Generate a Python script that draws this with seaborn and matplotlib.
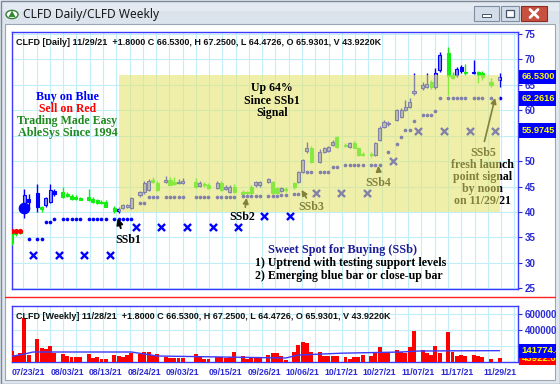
import numpy as np
import pandas as pd
import matplotlib
matplotlib.use("Agg")
import matplotlib.pyplot as plt
import matplotlib.transforms as mtransforms
from matplotlib.patches import Rectangle, Circle, Polygon
from matplotlib.lines import Line2D
import seaborn as sns

# ---------------- data ----------------
start_day = "2021-07-19"
end_day = "2021-11-29"
holidays = ["2021-09-06", "2021-11-25"]

opens = [35.9, 35.7, 35.9, 40.4, 42.5,
         43.7, 40.5, 41.4, 42.0, 44.1,
         43.9, 43.6, 43.1, 42.9, 42.7,
         42.9, 42.5, 42.3, 41.9, 42.0,
         40.8, 40.1, 40.8, 41.0, 40.8,
         43.3, 43.9, 44.4, 46.2, 45.7,
         45.9, 46.3, 45.8, 45.6, 45.7,
         45.9, 45.1, 45.4, 45.3,
         44.7, 45.7, 44.5, 43.9, 44.9,
         44.0, 43.9, 43.8, 45.2, 45.2,
         45.8, 45.8, 44.8, 44.1, 44.6,
         45.0, 45.9, 47.8, 52.0, 52.5,
         49.8, 51.8, 52.0, 53.1, 54.7,
         53.1, 52.8, 53.5, 52.5, 51.4,
         51.4, 51.2, 54.1, 56.7, 57.2,
         58.0, 58.6, 60.0, 60.6, 63.3,
         64.3, 64.6, 65.4, 64.5, 67.8,
         71.2, 66.9, 66.8, 68.4, 67.4,
         67.4, 67.4, 67.2, 65.5,
         65.93]
highs = [36.4, 36.5, 36.6, 44.6, 43.6,
         45.5, 41.2, 43.0, 45.5, 44.6,
         44.9, 44.0, 43.5, 43.3, 43.0,
         44.5, 42.9, 42.6, 42.3, 42.3,
         41.1, 41.0, 41.6, 41.6, 42.9,
         44.2, 46.0, 46.5, 46.9, 46.0,
         47.0, 46.8, 46.8, 46.5, 46.6,
         46.6, 46.0, 45.8, 45.6,
         46.0, 46.0, 45.2, 45.3, 45.4,
         44.3, 44.2, 45.2, 46.0, 46.0,
         46.7, 46.1, 45.0, 45.0, 45.0,
         45.9, 48.0, 50.4, 53.8, 52.9,
         52.3, 52.8, 53.0, 54.2, 55.0,
         53.6, 53.8, 53.9, 52.8, 51.7,
         51.8, 53.7, 56.8, 58.0, 57.8,
         60.2, 60.4, 62.0, 62.3, 67.3,
         65.5, 67.3, 65.8, 68.2, 71.4,
         72.4, 67.5, 68.5, 68.9, 69.0,
         69.9, 67.6, 67.6, 66.2,
         67.25]
lows = [33.6, 35.3, 35.6, 38.8, 41.2,
        40.0, 40.0, 41.0, 41.8, 43.2,
        42.7, 42.9, 42.4, 42.3, 42.3,
        42.2, 41.8, 41.6, 41.5, 40.9,
        39.9, 39.9, 40.5, 40.7, 40.6,
        43.0, 43.6, 44.2, 45.6, 44.2,
        45.6, 45.2, 45.3, 45.4, 45.5,
        44.8, 44.9, 45.0, 44.6,
        44.5, 44.2, 44.3, 43.7, 43.8,
        43.4, 43.5, 43.6, 45.0, 45.0,
        45.6, 43.6, 43.6, 43.9, 44.0,
        44.6, 45.6, 47.6, 51.6, 49.6,
        49.6, 51.5, 51.8, 52.9, 52.6,
        52.7, 52.6, 52.5, 51.0, 51.0,
        50.8, 51.0, 53.9, 56.4, 56.9,
        57.8, 58.4, 59.8, 60.4, 62.9,
        64.0, 64.3, 64.2, 64.2, 67.4,
        62.9, 66.0, 66.5, 67.2, 66.8,
        67.1, 65.3, 65.8, 64.6,
        64.47]
closes = [34.0, 36.0, 36.2, 43.3, 42.0,
          41.0, 40.9, 42.7, 44.3, 43.5,
          42.9, 43.1, 42.6, 42.5, 42.4,
          42.4, 42.0, 41.8, 41.7, 41.0,
          40.1, 40.6, 41.4, 41.4, 42.7,
          43.9, 45.7, 46.0, 45.8, 44.3,
          46.3, 45.3, 45.5, 45.9, 46.0,
          44.9, 45.6, 45.2, 44.7,
          45.7, 44.3, 44.9, 44.9, 43.9,
          43.6, 43.7, 45.0, 45.8, 45.8,
          46.4, 43.8, 43.8, 44.8, 44.3,
          45.6, 47.8, 50.2, 52.5, 49.8,
          51.8, 52.5, 52.7, 53.7, 52.7,
          52.9, 53.5, 52.6, 51.2, 51.2,
          51.1, 53.5, 56.5, 57.6, 57.4,
          60.0, 60.0, 60.6, 61.6, 63.7,
          64.9, 65.2, 64.6, 67.2, 70.8,
          66.7, 66.3, 68.0, 67.6, 67.2,
          67.2, 66.9, 66.5, 64.9,
          66.53]
bar_colors = list("gggbb" "bgbbb" "ggggg" "ggggg" "gbbbb" "bbbgg" "bggbb" "gbgg"
                  "bgbbg" "gggbb" "bggbg" "gbbbg" "bbbbg" "gbggg" "gbbbb" "bbbbb"
                  "bbgbb" "ggbbg" "bggg" "b")
volumes_k = [141, 75, 110, 550, 87,
             287, 175, 162, 200, 110,
             100, 75, 62, 62, 60,
             100, 45, 62, 37, 37,
             87, 75, 60, 87, 110,
             100, 125, 125, 87, 100,
             60, 45, 45, 45, 45,
             100, 75, 37, 40,
             62, 62, 45, 62, 125,
             75, 37, 60, 60, 45,
             87, 110, 112, 75, 30,
             125, 212, 250, 237, 125,
             125, 75, 75, 75, 75,
             62, 37, 62, 62, 87,
             75, 110, 187, 110, 125,
             150, 125, 110, 187, 390,
             150, 110, 87, 200, 110,
             375, 125, 75, 87, 75,
             87, 75, 62, 40,
             43.922]
nan = np.nan
support_dots = [nan, nan, nan, nan, 34.7,
                34.7, 34.7, 38.0, 38.0, 38.6,
                38.6, 38.6, 38.6, 38.6, 38.6,
                38.6, 38.6, 38.6, 38.6, 38.6,
                38.6, 38.6, 38.6, 38.6, 38.6,
                41.8, 41.8, 42.9, 42.9, 42.9,
                42.9, 42.9, 42.9, 42.9, 42.9,
                42.9, 42.9, 42.9, 42.9,
                42.9, 42.9, 42.9, 42.9, 42.9,
                43.1, 43.1, 43.1, 43.1, 43.1,
                43.1, 43.1, 43.1, 43.3, 43.3,
                43.5, 43.5, nan, 47.8, 47.8,
                47.8, 47.8, 47.8, 48.8, 48.8,
                49.2, 49.2, 49.2, 49.2, 49.2,
                49.2, 49.2, 49.2, nan, 51.8,
                53.3, 54.7, 56.1, 56.1, 57.8,
                59.0, 59.0, 59.0, 59.8, 62.26,
                62.26, 62.26, 62.26, 62.26, 62.26,
                62.26, 62.26, 62.26, 62.26,
                62.26]
sell_dot_days = [0, 1, 2]
sell_dot_level = 36.3
signal_day = 3
signal_level = 40.8
stop_weeks = list(range(19))
stop_levels = [31.6, 31.6, 31.6, 31.6, 37.0, 37.0, 37.0, 37.0, 37.0, 39.2,
               39.2, 43.7, 43.7, 43.7, 50.0, 55.9745, 55.9745, 55.9745, 55.9745]
ma_slots = [0, 3, 5, 28, 34, 46, 58, 64, 67, 77, 91, 95, 103, 114]
ma_k = [70, 100, 125, 125, 75, 65, 55, 50, 87, 110, 125, 137, 140, 141.774]
date_labels = ["07/23/21", "08/03/21", "08/13/21", "08/24/21", "09/03/21", "09/15/21",
               "09/26/21", "10/06/21", "10/17/21", "10/27/21", "11/07/21", "11/17/21",
               "11/29/21"]
price_ticks = [25, 30, 35, 40, 45, 50, 55, 60, 65, 70, 75]
price_hidden = [55]          # covered by the value box in the reference
vol_ticks = [200000, 400000, 600000]
vol_hidden = [200000]        # covered by the value box in the reference
last_close = 66.53
last_support = 62.2616
last_stop = 55.9745
last_vol = 43922.0
last_vol_ma = 141774.4
ssb1_day = 21

# ---------------- derived positions ----------------
t0 = pd.Timestamp(start_day)
days = pd.bdate_range(start_day, end_day)
days = days[~days.isin(pd.to_datetime(holidays))]


def slot_of(d):
    d = pd.Timestamp(d)
    return ((d - t0).days // 7) * 6 + min(d.weekday(), 5)


slots = np.array([slot_of(d) for d in days], dtype=float)
o = np.array(opens); h = np.array(highs); l = np.array(lows); c = np.array(closes)
assert len(slots) == len(o) == len(h) == len(l) == len(c) == len(bar_colors) == len(volumes_k) == len(support_dots)

# ---------------- figure ----------------
sns.set_style("white")
plt.rcParams["font.family"] = ["Liberation Sans", "DejaVu Sans"]
SERIF = ["Liberation Serif", "DejaVu Serif"]
W, H = 560, 384
fig = plt.figure(figsize=(W / 100, H / 100), dpi=100)
fig.patch.set_facecolor("#dfe6ee")


def fx(x):
    return x / W


def fy(y):
    return 1 - y / H


def frect(x0, y0, x1, y1, **kw):
    r = Rectangle((fx(x0), fy(y1)), fx(x1) - fx(x0), fy(y0) - fy(y1),
                  transform=fig.transFigure, **kw)
    fig.patches.append(r)
    return r


# window chrome
frect(0, 0, 560, 24, facecolor="#dbe3ec", edgecolor="none", zorder=-10)
frect(0, 0, 560, 11, facecolor="#e4eaf1", edgecolor="none", zorder=-9)
frect(5, 24, 555, 380, facecolor="white", edgecolor="#9aa6b4", lw=0.8, zorder=-8)
frect(0.5, 0.5, 559.5, 383.5, facecolor="none", edgecolor="#7d8999", lw=1, zorder=30)
frect(555.6, 24, 559.5, 383, facecolor="#dfe6ee", edgecolor="none", zorder=25)
# buttons
frect(474, 6, 499, 21, facecolor="#d3dde9", edgecolor="#7f8ea2", lw=0.8, zorder=26)
frect(482, 14, 491, 16.5, facecolor="white", edgecolor="#44556b", lw=0.7, zorder=27)
frect(501, 6, 519, 21, facecolor="#d3dde9", edgecolor="#7f8ea2", lw=0.8, zorder=26)
frect(506, 9.5, 514, 17, facecolor="white", edgecolor="#44556b", lw=0.9, zorder=27)
frect(521, 6, 547, 21, facecolor="#c8503f", edgecolor="#8a2e24", lw=0.8, zorder=26)
for (a, b) in [((530, 9.5), (538, 17.5)), ((530, 17.5), (538, 9.5))]:
    fig.lines.append(Line2D([fx(a[0]), fx(b[0])], [fy(a[1]), fy(b[1])], color="white",
                            lw=2.0, transform=fig.transFigure, zorder=28))
# icon
fig.patches.append(Circle((fx(12), fy(14.5)), 6 / W, transform=fig.transFigure,
                          facecolor="white", edgecolor="#3a7a3a", lw=1, zorder=26))
fig.patches.append(Polygon([(fx(8.5), fy(17)), (fx(12), fy(10.5)), (fx(15.5), fy(17))],
                           closed=True, transform=fig.transFigure, facecolor="#2e8b2e",
                           edgecolor="none", zorder=27))
fig.text(fx(23), fy(14.5), "CLFD Daily/CLFD Weekly", ha="left", va="center",
         fontsize=8.6, family=["Noto Sans", "DejaVu Sans"], color="#1a1a1a")

# separator
fig.lines.append(Line2D([fx(5), fx(555)], [fy(297), fy(297)], color="#ff2020", lw=1,
                        transform=fig.transFigure, zorder=5))

BLUE = "#0000ff"
GREEN = "#11ee11"
TICKBLUE = "#2a2ad6"
GRID = "#c2eef9"
XLIM = (0.1, 118.3)
grid_x = np.arange(2.75, 118.3, 3.1)

# ---------------- price axes ----------------
ax = fig.add_axes([fx(12), fy(289), fx(518) - fx(12), fy(32) - fy(289)])
ax.set_xlim(*XLIM)
ax.set_ylim(24.9, 75.3)
ax.set_facecolor("white")
ax.set_axisbelow(True)
for s in ax.spines.values():
    s.set_color("#3b3bff"); s.set_linewidth(1.0)
ax.yaxis.tick_right()
ax.set_yticks(price_ticks)
ax.set_yticklabels(["" if v in price_hidden else str(v) for v in price_ticks])
ax.tick_params(axis="y", length=3, color=TICKBLUE, labelcolor=TICKBLUE, labelsize=7, pad=2)
for t in ax.get_yticklabels():
    t.set_fontweight("bold")
ax.set_xticks([])
ax.set_xticks(grid_x, minor=True)
ax.tick_params(axis="x", which="both", length=0)
ax.grid(True, which="minor", axis="x", color=GRID, lw=0.8)
ax.grid(True, which="major", axis="y", color=GRID, lw=0.8)

cols = np.array([BLUE if k == "b" else GREEN for k in bar_colors])
filled = c < o
faces = np.array([cols[i] if (filled[i] or bar_colors[i] == "g") else "#8c8cff"
                  for i in range(len(cols))])
ax.vlines(slots, l, h, colors=cols, lw=1.0, zorder=3)
bottoms = np.minimum(o, c)
heights = np.maximum(np.abs(c - o), 0.18)
ax.bar(slots, heights, bottom=bottoms, width=0.72, color=faces, edgecolor=cols,
       linewidth=0.8, zorder=4)

dots = pd.DataFrame({"slot": slots, "level": support_dots}).dropna()
sns.scatterplot(data=dots, x="slot", y="level", ax=ax, color=BLUE, s=7, linewidth=0,
                zorder=5, legend=False)
sns.scatterplot(x=slots[sell_dot_days], y=[sell_dot_level] * len(sell_dot_days), ax=ax,
                color="#ff0000", s=14, linewidth=0, zorder=5, legend=False)
stop_slots = [6 * w + 5 for w in stop_weeks]
sns.scatterplot(x=stop_slots, y=stop_levels, ax=ax, marker="x", color=BLUE, s=26,
                linewidth=1.7, zorder=5, legend=False)
ax.scatter([slots[signal_day]], [signal_level], s=55, color=BLUE, zorder=6)
ax.set_xlabel(""); ax.set_ylabel("")

# annotations under the overlay
serif_bold = dict(family=SERIF, fontweight="bold", fontsize=8.6, color="black")
ax.text(27.2, 34.5, "SSb1", ha="center", va="center", zorder=6, **serif_bold)
ax.annotate("", xy=(24.6, 39.3), xytext=(25.7, 36.3),
            arrowprops=dict(arrowstyle="-|>", color="black", lw=1.4, mutation_scale=9), zorder=6)
ax.text(53.8, 39.0, "SSb2", ha="center", va="center", zorder=6, **serif_bold)
ax.annotate("", xy=(55.0, 43.3), xytext=(54.5, 40.4),
            arrowprops=dict(arrowstyle="-|>", color="black", lw=1.2, mutation_scale=8), zorder=6)
ax.text(70.0, 41.0, "SSb3", ha="center", va="center", zorder=6, **serif_bold)
ax.annotate("", xy=(67.4, 44.8), xytext=(69.2, 42.3),
            arrowprops=dict(arrowstyle="-|>", color="black", lw=1.2, mutation_scale=8), zorder=6)
ax.text(85.6, 45.7, "SSb4", ha="center", va="center", zorder=6, **serif_bold)
ax.annotate("", xy=(85.6, 49.6), xytext=(85.8, 47.5),
            arrowprops=dict(arrowstyle="-|>", color="black", lw=1.2, mutation_scale=8), zorder=6)
ax.annotate("", xy=(113.1, 62.9), xytext=(110.3, 53.3),
            arrowprops=dict(arrowstyle="-|>", color="black", lw=1.2, mutation_scale=8), zorder=6)
for txt, lv in [("SSb5", 51.6), ("fresh launch", 49.25), ("point signal", 46.9),
                ("by noon", 44.55), ("on 11/29/21", 42.2)]:
    ax.text(110.1, lv, txt, ha="center", va="center", zorder=6, clip_on=False, **serif_bold)

# translucent yellow overlay
ax.add_patch(Rectangle((slots[ssb1_day] - 0.0, 40.0), slots[-1] - slots[ssb1_day], 26.8,
                       facecolor="#e4e469", alpha=0.57, edgecolor="none", zorder=10))

# right value boxes
tr = mtransforms.blended_transform_factory(fig.transFigure, ax.transData)
for val in [last_stop, last_support, last_close]:
    ax.text(fx(521.5), val, f"{val:.4f}", transform=tr, ha="left", va="center",
            fontsize=6.6, fontweight="bold", color="#ffff00", clip_on=False, zorder=20,
            bbox=dict(boxstyle="square,pad=0.28", facecolor="#0000ff", edgecolor="none"))

# ---------------- volume axes ----------------
ax2 = fig.add_axes([fx(12), fy(362), fx(518) - fx(12), fy(306) - fy(362)])
ax2.set_xlim(*XLIM)
ax2.set_ylim(0, 700000)
ax2.set_axisbelow(True)
for s in ax2.spines.values():
    s.set_color("#3b3bff"); s.set_linewidth(1.0)
ax2.bar(slots, np.array(volumes_k) * 1000, width=0.92, color="#ff0000", linewidth=0, zorder=3)
sns.lineplot(x=ma_slots, y=np.array(ma_k) * 1000, ax=ax2, color="#3a3aff", lw=1.0, zorder=4)
ax2.yaxis.tick_right()
ax2.set_yticks(vol_ticks)
ax2.set_yticklabels(["" if v in vol_hidden else str(v) for v in vol_ticks])
ax2.tick_params(axis="y", length=3, color=TICKBLUE, labelcolor=TICKBLUE, labelsize=7, pad=2)
for t in ax2.get_yticklabels():
    t.set_fontweight("bold")
tick_slots = [slot_of(pd.to_datetime(d, format="%m/%d/%y")) for d in date_labels]
ax2.set_xticks(tick_slots)
ax2.set_xticklabels(date_labels)
ax2.set_xticks(grid_x, minor=True)
ax2.tick_params(axis="x", which="major", length=3, color=TICKBLUE, labelcolor=TICKBLUE,
                labelsize=6.2, pad=1.5)
ax2.tick_params(axis="x", which="minor", length=0)
for t in ax2.get_xticklabels():
    t.set_fontweight("bold")
ax2.grid(True, which="minor", axis="x", color=GRID, lw=0.8)
ax2.grid(True, which="major", axis="y", color=GRID, lw=0.8)
ax2.set_xlabel(""); ax2.set_ylabel("")
tr2 = mtransforms.blended_transform_factory(fig.transFigure, ax2.transData)
ax2.text(fx(521.5), last_vol, f"{last_vol:.1f}", transform=tr2, ha="left", va="center",
         fontsize=6.8, fontweight="bold", color="#ffff00", clip_on=False, zorder=19,
         bbox=dict(boxstyle="square,pad=0.25", facecolor="#ff0000", edgecolor="none"))
ax2.text(fx(521.5), last_vol_ma, f"{last_vol_ma:.1f}", transform=tr2, ha="left", va="center",
         fontsize=6.8, fontweight="bold", color="#ffff00", clip_on=False, zorder=20,
         bbox=dict(boxstyle="square,pad=0.25", facecolor="#0000ff", edgecolor="none"))

# ---------------- figure texts ----------------
renderer = fig.canvas.get_renderer()


def fit(t, target):
    w = t.get_window_extent(renderer).width
    t.set_fontsize(t.get_fontsize() * target / w)


t = fig.text(fx(16), fy(42.5),
             "CLFD [Daily] 11/29/21  +1.8000 C 66.5300, H 67.2500, L 64.4726, O 65.9301, V 43.9220K",
             ha="left", va="center", fontsize=7, fontweight="bold", color="#111111")
fit(t, 367)
t = fig.text(fx(16.5), fy(316.5),
             "CLFD [Weekly] 11/28/21  +1.8000 C 66.5300, H 67.2500, L 64.4726, O 65.9301, V 43.9220K",
             ha="left", va="center", fontsize=7, fontweight="bold", color="#111111")
fit(t, 374)

for txt, y, col, wd in [("Buy on Blue", 97, "#0000ff", 63), ("Sell on Red", 109, "#ff0000", 57),
                        ("Trading Made Easy", 121, "#1f8a1f", 100),
                        ("AbleSys Since 1994", 133, "#1f8a1f", 99)]:
    t = fig.text(fx(67.5), fy(y), txt, ha="center", va="center", family=SERIF,
                 fontweight="bold", fontsize=8.6, color=col)
    fit(t, wd)

for txt, y in [("Up 64%", 88), ("Since SSb1", 100.5), ("Signal", 113)]:
    fig.text(fx(272), fy(y), txt, ha="center", va="center", family=SERIF,
             fontweight="bold", fontsize=8.6, color="black")

fig.text(fx(342), fy(250.5), "Sweet Spot for Buying (SSb)", ha="center", va="center",
         family=SERIF, fontweight="bold", fontsize=8.8, color="#1c1c96")
fig.text(fx(255), fy(263), "1) Uptrend with testing support levels", ha="left", va="center",
         family=SERIF, fontweight="bold", fontsize=8.6, color="black")
fig.text(fx(255), fy(275.5), "2) Emerging blue bar or close-up bar", ha="left", va="center",
         family=SERIF, fontweight="bold", fontsize=8.6, color="black")

fig.savefig("out.png", dpi=100)
